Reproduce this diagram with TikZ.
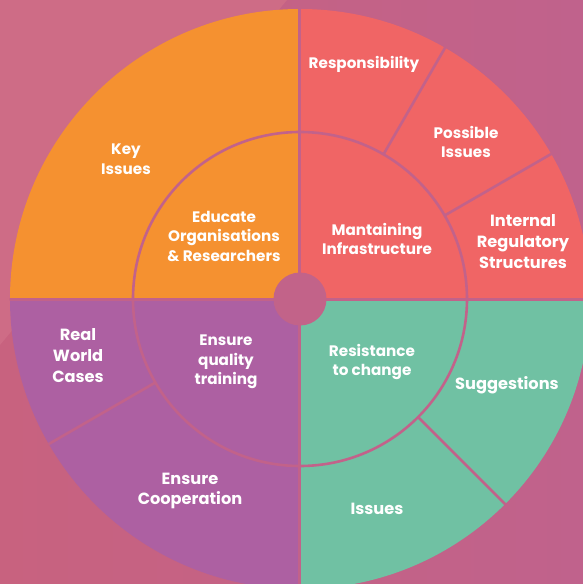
\documentclass[tikz,border=0pt]{standalone}
\usepackage{fontspec}
\setmainfont{Poppins}
\begin{document}
\begin{tikzpicture}[x=1pt,y=1pt]
\definecolor{bgR}{HTML}{C0628C}
\definecolor{bgLft}{HTML}{C8627F}
\definecolor{bgLight}{HTML}{CE6C86}
\definecolor{cOrange}{HTML}{F59130}
\definecolor{cCoral}{HTML}{F06565}
\definecolor{cGreen}{HTML}{70C1A3}
\definecolor{cPurple}{HTML}{AD60A2}
\definecolor{cHub}{HTML}{C26389}
\definecolor{cGap}{HTML}{C2628A}
\tikzset{
  gapline/.style={draw=cGap, line width=2.6pt},
  lbl/.style={text=white, align=center, font=\bfseries\fontsize{15.2}{19.5}\selectfont, inner sep=0pt},
  lblbig/.style={lbl, font=\bfseries\fontsize{16.2}{21}\selectfont},
}
\useasboundingbox (-300,-285) rectangle (283,299);
\shade[left color=bgLft, right color=bgR] (-300,-285) rectangle (283,299);
\fill[bgLight] (-300,299) -- (-13,299) -- (-300,-46) -- cycle;
% sectors
\fill[cOrange] (0,0) -- (180:290) arc (180:90:290) -- cycle;
\fill[cCoral] (0,0) -- (90:290) arc (90:0:290) -- cycle;
\fill[cGreen] (0,0) -- (0:290) arc (0:-90:290) -- cycle;
\fill[cPurple] (0,0) -- (-90:290) arc (-90:-180:290) -- cycle;
% gaps
\begin{scope}
  \clip (0,0) circle (290.5);
  \draw[gapline, line width=3pt] (-292,0) -- (292,0);
  \draw[gapline, line width=3pt] (0,-292) -- (0,292);
  \draw[gapline] (30:167) -- (30:292);
  \draw[gapline] (60:167) -- (60:292);
  \draw[gapline] (-45:167) -- (-45:292);
  \draw[gapline] (210:167) -- (210:292);
\end{scope}
\draw[gapline] (0,0) circle (167);
\fill[cHub] (0,0) circle (26.5);
% labels
\node[lbl] (key) at (-174,140) {Key\\Issues};
\node[lbl] (edu) at (-76,63) {Educate\\Organisations\\\& Researchers};
\node[lbl] (resp) at (64,235) {Responsibility};
\node[lbl] (poss) at (166,157) {Possible\\Issues};
\node[lblbig] (irs) at (223,57) {Internal\\Regulatory\\Structures};
\node[lbl] (mant) at (77,60) {Mantaining\\Infrastructure};
\node[lblbig] (rwc) at (-222,-57) {Real\\World\\Cases};
\node[lbl] (eqt) at (-74,-63) {Ensure\\quality\\training};
\node[lblbig, font=\bfseries\fontsize{16.2}{20.5}\selectfont] (coop) at (-110,-192) {Ensure\\Cooperation};
\node[lbl] (res) at (72,-63) {Resistance\\to change};
\node[lblbig] (sugg) at (207,-86) {Suggestions};
\node[lblbig] (iss) at (77,-210) {Issues};
\end{tikzpicture}
\end{document}
